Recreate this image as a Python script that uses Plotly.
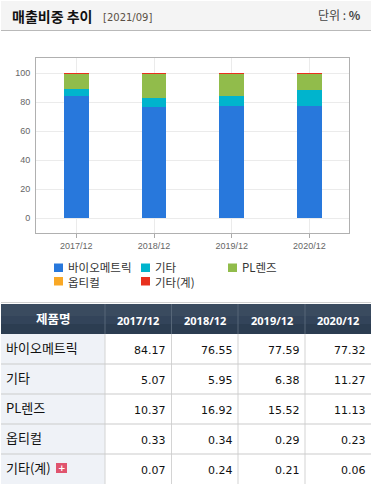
import plotly.graph_objects as go

W, H = 372, 484
periods = ["2017/12", "2018/12", "2019/12", "2020/12"]
products = ["바이오메트릭", "기타", "PL렌즈", "옵티컬", "기타(계)"]
biometric = [84.17, 76.55, 77.59, 77.32]
etc = [5.07, 5.95, 6.38, 11.27]
pl_lens = [10.37, 16.92, 15.52, 11.13]
optical = [0.33, 0.34, 0.29, 0.23]
etc_total = [0.07, 0.24, 0.21, 0.06]
series = [biometric, etc, pl_lens, optical, etc_total]
colors = ["#2878dc", "#00b4cd", "#91bc4b", "#f9a825", "#e8301e"]
y_ticks = [0, 20, 40, 60, 80, 100]

KR = "Noto Sans CJK KR"
NUM = "DejaVu Sans"

fig = go.Figure()
for name, vals, c in zip(products, series, colors):
    fig.add_bar(x=periods, y=vals, name=name, marker=dict(color=c, line=dict(width=0)),
                width=0.32, showlegend=False)

shapes, ann = [], []


def px(x):
    return x / W


def py(y):
    return 1 - y / H


def rect(x0, y0, x1, y1, fill, layer="below"):
    shapes.append(dict(type="rect", xref="paper", yref="paper", x0=px(x0), x1=px(x1),
                       y0=py(y1), y1=py(y0), fillcolor=fill, line=dict(width=0), layer=layer))


def text(x, y, s, size, color, anchor="left", family=KR, bold=False):
    ann.append(dict(xref="paper", yref="paper", x=px(x), y=py(y), text=f"<b>{s}</b>" if bold else s,
                    showarrow=False, xanchor=anchor, yanchor="middle",
                    font=dict(size=size, color=color, family=family), borderpad=0, borderwidth=0,
                    align="left"))


# title strip
rect(1, 1, W - 1, 30, "#f4f4f4")
rect(1, 30, W - 1, 31, "#b9b9b9")
text(12, 16, "매출비중 추이", 14, "#111111", bold=True)
text(103.5, 17, "[2021/09]", 10, "#5a5046", family=NUM)
text(361, 15, "단위 : <b>%</b>", 12, "#444444", anchor="right")

# legend: swatches, then one two-line label per column so the rows keep the tight spacing
legend_pos = [(54, 267.5), (141, 267.5), (228, 267.5), (54, 281), (141, 281)]
for c, (lx, ly) in zip(colors, legend_pos):
    rect(lx, ly - 4, lx + 9, ly + 4.5, c)
text(54 + 14, 274, f"{products[0]}<br>{products[3]}", 11.5, "#333333")
text(141 + 14, 274, f"{products[1]}<br>{products[4]}", 11.5, "#333333")
text(228 + 14, 267, products[2], 11.5, "#333333")

# table
col_edges = [1, 105, 171.5, 238, 305, 371]
head_top, head_bot = 304, 334
row_edges = [334, 364, 394, 424, 454, 484]

rect(1, 302, 371, 303, "#d0d0d0")
rect(1, head_top, 371, head_bot, "#2c3d51")
rect(1, head_top, 371, head_top + 12, "#3a4b5f")
rect(1, head_top + 12, 371, head_top + 20, "#33445a")
rect(1, row_edges[0], col_edges[1], H, "#eff2f7")
for xe in col_edges[1:-1]:
    rect(xe - 0.5, head_top, xe + 0.5, head_bot, "#566678")
    rect(xe - 0.5, head_bot, xe + 0.5, H, "#d4d4d4")
for ye in row_edges[1:-1]:
    rect(1, ye - 0.5, 371, ye + 0.5, "#cccccc")

text((col_edges[0] + col_edges[1]) / 2, 318, "제품명", 12.5, "#ffffff", anchor="center", bold=True)
for i, p in enumerate(periods):
    text((col_edges[i + 1] + col_edges[i + 2]) / 2, 320, p, 11, "#ffffff", anchor="center", family="Noto Sans", bold=True)
for r, name in enumerate(products):
    cy = (row_edges[r] + row_edges[r + 1]) / 2
    text(6, cy - 2, name, 13, "#111111")
    for c in range(4):
        text(col_edges[c + 2] - 5.5, cy + 1, f"{series[r][c]:.2f}", 11, "#111111", anchor="right", family=NUM)

# plus icon
rect(56, 463, 67, 473, "#e0546e")
text(61.5, 467.5, "+", 9, "#ffffff", anchor="center", family=NUM, bold=True)

fig.update_layout(
    width=W, height=H, autosize=False, barmode="stack",
    margin=dict(l=0, r=0, t=0, b=0), paper_bgcolor="#ffffff", plot_bgcolor="#ffffff",
    shapes=shapes, annotations=ann,
    xaxis=dict(domain=[36 / W, 349 / W], type="category", categoryorder="array", categoryarray=periods,
               range=[-0.519, 3.51],
               showgrid=True, gridcolor="#ebebeb", gridwidth=1,
               ticks="outside", ticklen=4, tickcolor="#aaaaaa",
               tickfont=dict(size=9, color="#666666", family="Liberation Sans"),
               showline=True, linecolor="#b0b0b0", linewidth=1, mirror=True, zeroline=False),
    yaxis=dict(domain=[1 - 233 / H, 1 - 58 / H], range=[-10.2, 110.4], tickvals=y_ticks,
               showgrid=True, gridcolor="#ebebeb", gridwidth=1, ticks="",
               ticklabelstandoff=3,
               tickfont=dict(size=9, color="#666666", family="Liberation Sans"),
               showline=True, linecolor="#b0b0b0", linewidth=1, mirror=True, zeroline=False),
)

fig.write_html("out.html", config=dict(displayModeBar=False),
               post_script="document.body.style.margin='0';document.documentElement.style.overflow='hidden';")
